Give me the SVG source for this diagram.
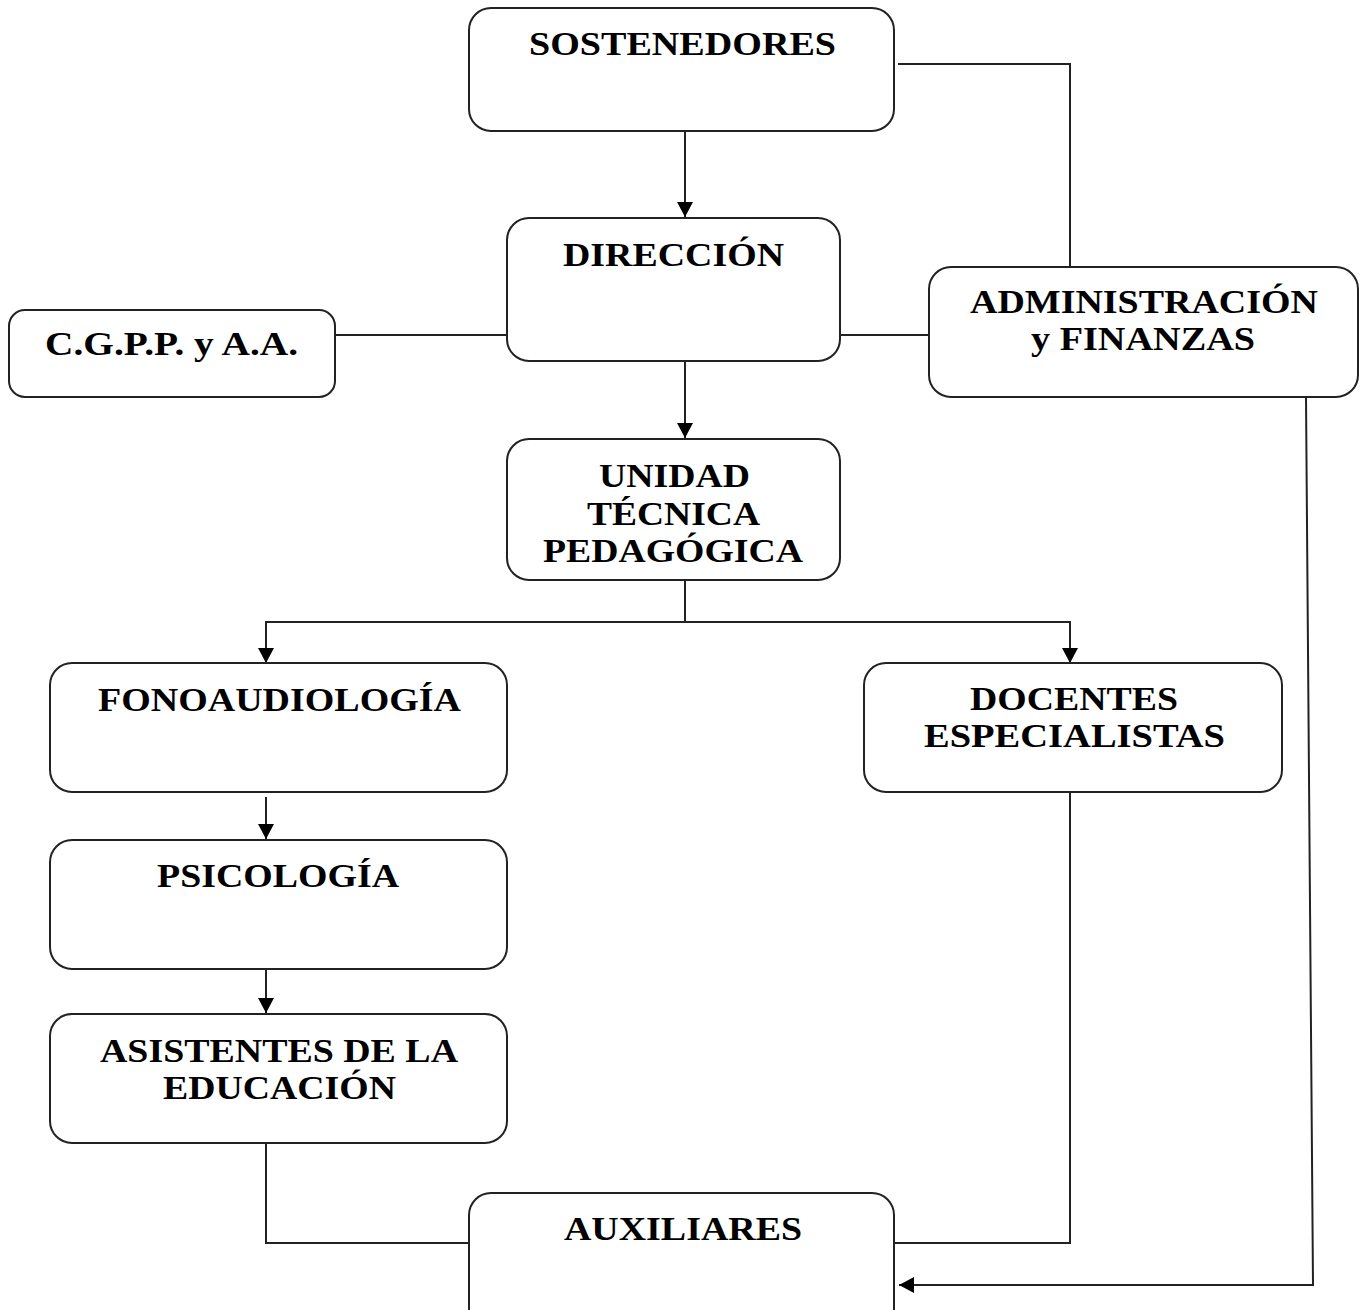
<svg xmlns="http://www.w3.org/2000/svg" width="1366" height="1310" viewBox="0 0 1366 1310">
<style>
.box{fill:#fff;stroke:#222;stroke-width:2}
.t{font-family:"Liberation Serif","Times New Roman",serif;font-weight:bold;font-size:33px;fill:#000;text-anchor:middle}
.c{fill:none;stroke:#222;stroke-width:2}
</style>
<defs>
<marker id="ah" viewBox="0 0 15 16" refX="15" refY="8" markerWidth="15" markerHeight="16" markerUnits="userSpaceOnUse" orient="auto">
<path d="M0,0 L15,8 L0,16 Z" fill="#000"/>
</marker>
</defs>
<rect width="1366" height="1310" fill="#fff"/>
<g id="connectors">
<path class="c" d="M685,131 V217" marker-end="url(#ah)"/>
<path class="c" d="M898,64 H1070 V267"/>
<path class="c" d="M335,335 H507"/>
<path class="c" d="M837,335 H929"/>
<path class="c" d="M685,361 V438" marker-end="url(#ah)"/>
<path class="c" d="M685,580 V622"/>
<path class="c" d="M685,622 H266 V663" marker-end="url(#ah)"/>
<path class="c" d="M685,622 H1070 V663" marker-end="url(#ah)"/>
<path class="c" d="M266,797 V839" marker-end="url(#ah)"/>
<path class="c" d="M266,969 V1013" marker-end="url(#ah)"/>
<path class="c" d="M266,1143 V1243 H469"/>
<path class="c" d="M1070,792 V1243 H894"/>
<path class="c" d="M1306,397 L1313,1285 H899" marker-end="url(#ah)"/>
</g>
<g id="sostenedores">
<rect class="box" x="469" y="8" width="425" height="123" rx="22"/>
<text class="t" x="682.5" y="55" textLength="307" lengthAdjust="spacingAndGlyphs">SOSTENEDORES</text>
</g>
<g id="direccion">
<rect class="box" x="507" y="218" width="333" height="143" rx="22"/>
<text class="t" x="673.5" y="266" textLength="221" lengthAdjust="spacingAndGlyphs">DIRECCIÓN</text>
</g>
<g id="cgpp">
<rect class="box" x="9" y="310" width="326" height="87" rx="16"/>
<text class="t" x="171.5" y="355" textLength="253" lengthAdjust="spacingAndGlyphs">C.G.P.P. y A.A.</text>
</g>
<g id="administracion">
<rect class="box" x="929" y="267" width="429" height="130" rx="22"/>
<text class="t" x="1144" y="313" textLength="348" lengthAdjust="spacingAndGlyphs">ADMINISTRACIÓN</text>
<text class="t" x="1143" y="350" textLength="224" lengthAdjust="spacingAndGlyphs">y FINANZAS</text>
</g>
<g id="utp">
<rect class="box" x="507" y="439" width="333" height="141" rx="22"/>
<text class="t" x="674.5" y="487" textLength="151" lengthAdjust="spacingAndGlyphs">UNIDAD</text>
<text class="t" x="673.5" y="525" textLength="173" lengthAdjust="spacingAndGlyphs">TÉCNICA</text>
<text class="t" x="673" y="562" textLength="260" lengthAdjust="spacingAndGlyphs">PEDAGÓGICA</text>
</g>
<g id="fonoaudiologia">
<rect class="box" x="50" y="663" width="457" height="129" rx="22"/>
<text class="t" x="279.5" y="711" textLength="363" lengthAdjust="spacingAndGlyphs">FONOAUDIOLOGÍA</text>
</g>
<g id="docentes">
<rect class="box" x="864" y="663" width="418" height="129" rx="22"/>
<text class="t" x="1074" y="710" textLength="208" lengthAdjust="spacingAndGlyphs">DOCENTES</text>
<text class="t" x="1074.5" y="747" textLength="301" lengthAdjust="spacingAndGlyphs">ESPECIALISTAS</text>
</g>
<g id="psicologia">
<rect class="box" x="50" y="840" width="457" height="129" rx="22"/>
<text class="t" x="278" y="887" textLength="242" lengthAdjust="spacingAndGlyphs">PSICOLOGÍA</text>
</g>
<g id="asistentes">
<rect class="box" x="50" y="1014" width="457" height="129" rx="22"/>
<text class="t" x="279" y="1062" textLength="358" lengthAdjust="spacingAndGlyphs">ASISTENTES DE LA</text>
<text class="t" x="279.5" y="1099" textLength="233" lengthAdjust="spacingAndGlyphs">EDUCACIÓN</text>
</g>
<g id="auxiliares">
<rect class="box" x="469" y="1193" width="425" height="140" rx="22"/>
<text class="t" x="683" y="1240" textLength="238" lengthAdjust="spacingAndGlyphs">AUXILIARES</text>
</g>
</svg>
